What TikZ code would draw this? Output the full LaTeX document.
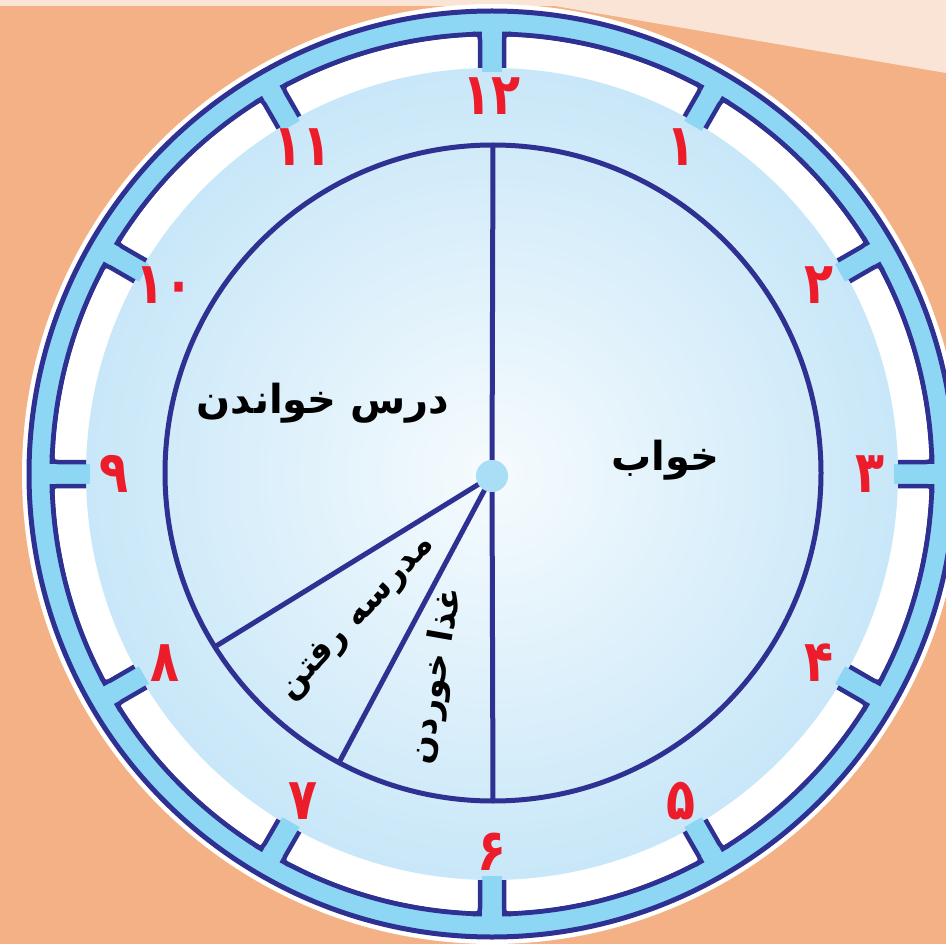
\documentclass[tikz,border=0pt]{standalone}
\usepackage{fontspec}
\usetikzlibrary{calc}
\TeXXeTstate=1
\newfontfamily\arabicfont[Script=Arabic]{DejaVu Sans}
\newfontfamily\digitfont{DejaVu Sans}
\definecolor{bgor}{HTML}{F3B185}
\definecolor{peach}{HTML}{FAE4D6}
\definecolor{rimblue}{HTML}{8DD7F5}
\definecolor{navy}{HTML}{2E3192}
\definecolor{facein}{HTML}{F6FBFE}
\definecolor{faceout}{HTML}{C8E7F8}
\definecolor{hubblue}{HTML}{A9DEF6}
\definecolor{digitred}{HTML}{EC1C2A}
\begin{document}
\begin{tikzpicture}[x=1pt,y=-1pt,
  hourlabel/.style={text=digitred, font=\digitfont\bfseries\fontsize{58}{58}\selectfont, inner sep=0, xscale=0.82},
  activity/.style={text=black, font=\arabicfont\bfseries\fontsize{40}{40}\selectfont, inner sep=0},
  slanted/.style={text=black, font=\arabicfont\bfseries\fontsize{34}{34}\selectfont, inner sep=0},
  navyline/.style={draw=navy, line width=5}]
\useasboundingbox (0,0) rectangle (946,944);
\clip (0,0) rectangle (946,944);
\fill[bgor] (0,0) rectangle (946,944);
\fill[peach] (0,0) -- (946,0) -- (946,73) -- (555,6) -- (0,6) -- cycle;
\coordinate (C) at (492,474);
\fill[white] (C) circle[radius=470];
\fill[rimblue] (C) circle[radius=463];
\draw[navy, line width=5] (C) circle[radius=463];
\draw[navy, line width=5] (C) circle[radius=440];
\fill[white] (C) circle[radius=437.5];
\shade[inner color=facein, outer color=faceout] (C) circle[radius=406];
\foreach \h in {0,...,11}{
  \begin{scope}[shift={(C)}, rotate=30*\h]
    \fill[rimblue] (-10,-402) rectangle (10,-446);
    \draw[navy, line width=4.5] (-12,-406) -- (-12,-434) .. controls (-12,-439) and (-14,-440.2) .. (-19,-440.2);
    \draw[navy, line width=4.5] (12,-406) -- (12,-434) .. controls (12,-439) and (14,-440.2) .. (19,-440.2);
  \end{scope}}
\foreach \h/\d in {0/۱۲,1/۱,2/۲,3/۳,4/۴,5/۵,6/۶,7/۷,8/۸,9/۹,10/۱۰,11/۱۱}{
  \node[hourlabel] (h\h) at ($(C)+(-90+30*\h:378)$) {\d};}
\coordinate (O) at (493,473);
\draw[navyline] (O) circle[radius=328];
\coordinate (hubc) at (492,476);
\coordinate (p12) at ($(O)+(-90:328)$);
\coordinate (p6) at ($(O)+(90:328)$);
\coordinate (p7) at ($(O)+(118:328)$);
\coordinate (p8) at ($(O)+(148:328)$);
\draw[navyline] (hubc) -- (p12);
\draw[navyline] (hubc) -- (p6);
\draw[navyline] (hubc) -- (p7);
\draw[navyline] (hubc) -- (p8);
\node[circle, fill=hubblue, minimum size=32, inner sep=0] (hub) at (hubc) {};
\node[activity] (sleep) at (665,460) {\beginR خواب\endR};
\node[activity] (study) at (323,403) {\beginR درس خواندن\endR};
\node[slanted, rotate=47] (school) at (358,618) {\beginR مدرسه رفتن\endR};
\node[slanted, rotate=80] (eat) at (437,676) {\beginR غذا خوردن\endR};
\end{tikzpicture}
\end{document}
